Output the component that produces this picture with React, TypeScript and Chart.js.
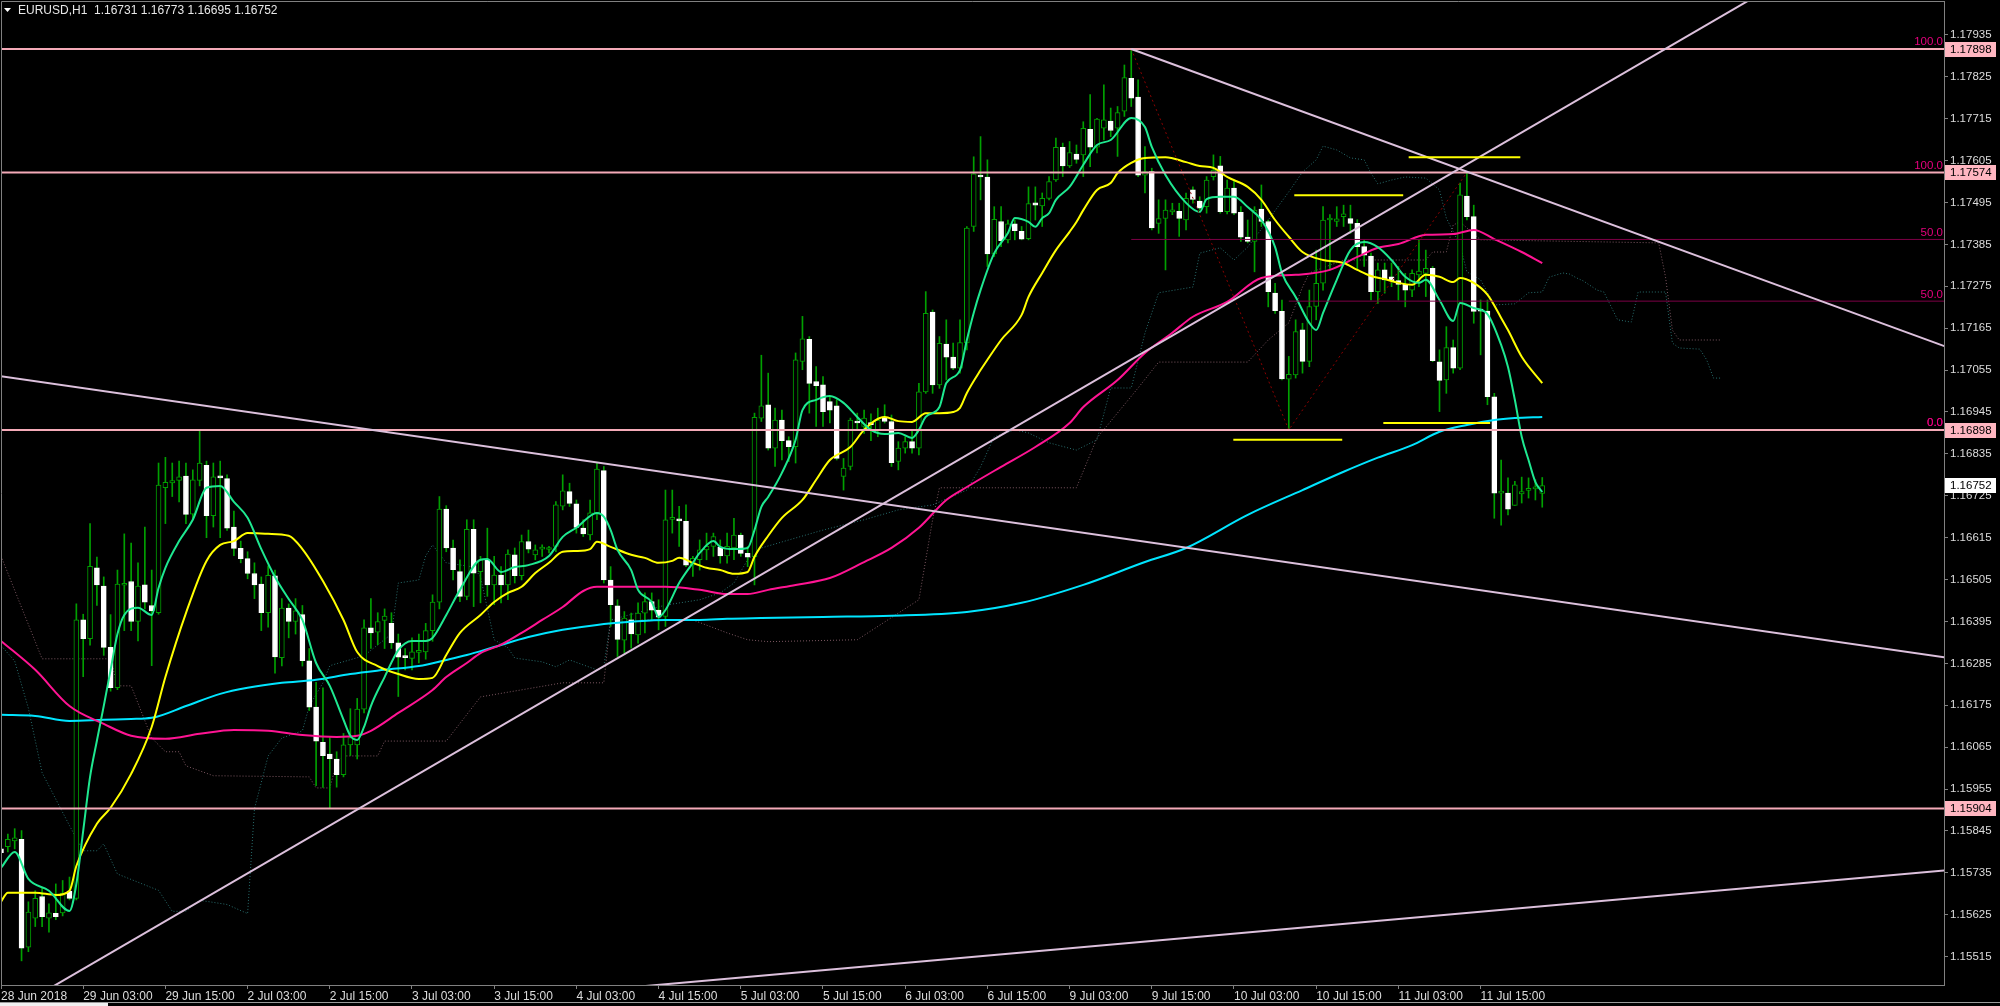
import React, { useEffect, useRef } from "react";
import { Chart, registerables } from "chart.js";

Chart.register(...registerables);

// ---------------- data ----------------
const headerText = "EURUSD,H1  1.16731 1.16773 1.16695 1.16752";

const timeTickIdx = [0, 12, 24, 36, 48, 60, 72, 84, 96, 108, 120, 132, 144, 156, 168, 180, 192, 204, 216];
const timeTickLabels = [
  "28 Jun 2018", "29 Jun 03:00", "29 Jun 15:00", "2 Jul 03:00", "2 Jul 15:00", "3 Jul 03:00",
  "3 Jul 15:00", "4 Jul 03:00", "4 Jul 15:00", "5 Jul 03:00", "5 Jul 15:00", "6 Jul 03:00",
  "6 Jul 15:00", "9 Jul 03:00", "9 Jul 15:00", "10 Jul 03:00", "10 Jul 15:00", "11 Jul 03:00", "11 Jul 15:00",
];
const priceTicks = [
  1.17935, 1.17825, 1.17715, 1.17605, 1.17495, 1.17385, 1.17275, 1.17165, 1.17055, 1.16945, 1.16835, 1.16725,
  1.16615, 1.16505, 1.16395, 1.16285, 1.16175, 1.16065, 1.15955, 1.15845, 1.15735, 1.15625, 1.15515,
];

const opens = [
  1.15798, 1.15804, 1.15819, 1.15823, 1.15540, 1.15616, 1.15673, 1.15616, 1.15629, 1.15630,
  1.15687, 1.15668, 1.16399, 1.16350, 1.16536, 1.16488, 1.16327, 1.16221, 1.16490, 1.16500,
  1.16395, 1.16491, 1.16437, 1.16418, 1.16746, 1.16759, 1.16765, 1.16777, 1.16677, 1.16765,
  1.16805, 1.16673, 1.16777, 1.16770, 1.16643, 1.16587, 1.16560, 1.16521, 1.16493, 1.16418,
  1.16515, 1.16300, 1.16430, 1.16395, 1.16413, 1.16292, 1.16170, 1.16078, 1.16047, 1.16034,
  1.15993, 1.16071, 1.16071, 1.16165, 1.16378, 1.16367, 1.16398, 1.16390, 1.16339, 1.16304,
  1.16298, 1.16314, 1.16315, 1.16371, 1.16446, 1.16690, 1.16588, 1.16526, 1.16461, 1.16637,
  1.16526, 1.16557, 1.16491, 1.16517, 1.16491, 1.16570, 1.16515, 1.16605, 1.16570, 1.16585,
  1.16584, 1.16592, 1.16698, 1.16736, 1.16704, 1.16640, 1.16622, 1.16680, 1.16791, 1.16504,
  1.16436, 1.16346, 1.16399, 1.16360, 1.16417, 1.16447, 1.16425, 1.16408, 1.16663, 1.16664,
  1.16658, 1.16543, 1.16557, 1.16583, 1.16592, 1.16590, 1.16567, 1.16588, 1.16622, 1.16574,
  1.16565, 1.16929, 1.16964, 1.16850, 1.16924, 1.16870, 1.16854, 1.17078, 1.17136, 1.17025,
  1.17016, 1.16972, 1.16961, 1.16776, 1.16802, 1.16920, 1.16907, 1.16916, 1.16898, 1.16930,
  1.16920, 1.16815, 1.16850, 1.16867, 1.16850, 1.16998, 1.17207, 1.17016, 1.17123, 1.17089,
  1.17060, 1.17126, 1.17432, 1.17566, 1.17562, 1.17360, 1.17445, 1.17397, 1.17439, 1.17419,
  1.17400, 1.17494, 1.17486, 1.17506, 1.17554, 1.17640, 1.17591, 1.17622, 1.17620, 1.17687,
  1.17640, 1.17690, 1.17709, 1.17690, 1.17735, 1.17821, 1.17772, 1.17567, 1.17576, 1.17440,
  1.17453, 1.17470, 1.17472, 1.17449, 1.17528, 1.17499, 1.17484, 1.17563, 1.17591, 1.17471,
  1.17533, 1.17469, 1.17404, 1.17393, 1.17478, 1.17445, 1.17257, 1.17209, 1.17031, 1.17042,
  1.17161, 1.17078, 1.17222, 1.17283, 1.17449, 1.17445, 1.17458, 1.17453, 1.17440, 1.17379,
  1.17354, 1.17261, 1.17318, 1.17300, 1.17290, 1.17280, 1.17265, 1.17305, 1.17309, 1.17322,
  1.17077, 1.17029, 1.17114, 1.17060, 1.17512, 1.17458, 1.17213, 1.17210, 1.16985, 1.16732,
  1.16732, 1.16700, 1.16730, 1.16739, 1.16743, 1.16731,
];
const highs = [
  1.15814, 1.15837, 1.15851, 1.15846, 1.15659, 1.15688, 1.15696, 1.15654, 1.15706, 1.15715,
  1.15724, 1.16441, 1.16414, 1.16652, 1.16564, 1.16512, 1.16413, 1.16530, 1.16625, 1.16601,
  1.16549, 1.16643, 1.16530, 1.16811, 1.16826, 1.16811, 1.16816, 1.16811, 1.16793, 1.16896,
  1.16816, 1.16811, 1.16816, 1.16780, 1.16685, 1.16606, 1.16578, 1.16549, 1.16512, 1.16541,
  1.16530, 1.16455, 1.16441, 1.16455, 1.16437, 1.16324, 1.16235, 1.16221, 1.16090, 1.16053,
  1.16101, 1.16166, 1.16193, 1.16399, 1.16455, 1.16418, 1.16428, 1.16418, 1.16362, 1.16324,
  1.16352, 1.16362, 1.16390, 1.16465, 1.16723, 1.16699, 1.16609, 1.16557, 1.16662, 1.16662,
  1.16566, 1.16640, 1.16566, 1.16539, 1.16583, 1.16588, 1.16622, 1.16635, 1.16596, 1.16596,
  1.16592, 1.16710, 1.16780, 1.16758, 1.16714, 1.16662, 1.16714, 1.16811, 1.16802, 1.16539,
  1.16452, 1.16421, 1.16417, 1.16444, 1.16470, 1.16470, 1.16452, 1.16740, 1.16740, 1.16697,
  1.16701, 1.16566, 1.16609, 1.16627, 1.16627, 1.16609, 1.16627, 1.16666, 1.16627, 1.16592,
  1.16942, 1.17094, 1.17047, 1.16955, 1.16950, 1.16880, 1.17100, 1.17196, 1.17143, 1.17064,
  1.17038, 1.16985, 1.16977, 1.16823, 1.16929, 1.16942, 1.16950, 1.16940, 1.16955, 1.16964,
  1.16937, 1.16867, 1.16880, 1.16898, 1.17020, 1.17261, 1.17213, 1.17143, 1.17187, 1.17126,
  1.17187, 1.17432, 1.17615, 1.17668, 1.17607, 1.17484, 1.17484, 1.17449, 1.17449, 1.17432,
  1.17536, 1.17536, 1.17520, 1.17563, 1.17664, 1.17651, 1.17655, 1.17646, 1.17707, 1.17778,
  1.17716, 1.17804, 1.17743, 1.17747, 1.17856, 1.17898, 1.17817, 1.17642, 1.17585, 1.17502,
  1.17502, 1.17493, 1.17493, 1.17520, 1.17536, 1.17510, 1.17563, 1.17620, 1.17616, 1.17554,
  1.17554, 1.17484, 1.17449, 1.17484, 1.17541, 1.17449, 1.17283, 1.17239, 1.17091, 1.17187,
  1.17178, 1.17265, 1.17370, 1.17484, 1.17463, 1.17484, 1.17488, 1.17488, 1.17450, 1.17397,
  1.17362, 1.17336, 1.17336, 1.17336, 1.17327, 1.17309, 1.17318, 1.17397, 1.17370, 1.17327,
  1.17108, 1.17169, 1.17134, 1.17546, 1.17576, 1.17488, 1.17239, 1.17239, 1.16994, 1.16819,
  1.16772, 1.16763, 1.16774, 1.16772, 1.16767, 1.16773,
];
const lows = [
  1.15775, 1.15790, 1.15798, 1.15504, 1.15528, 1.15594, 1.15594, 1.15579, 1.15612, 1.15622,
  1.15664, 1.15664, 1.16250, 1.16333, 1.16437, 1.16306, 1.16212, 1.16216, 1.16371, 1.16371,
  1.16344, 1.16428, 1.16279, 1.16414, 1.16652, 1.16723, 1.16709, 1.16652, 1.16662, 1.16751,
  1.16615, 1.16643, 1.16615, 1.16634, 1.16568, 1.16549, 1.16507, 1.16455, 1.16371, 1.16380,
  1.16259, 1.16278, 1.16352, 1.16362, 1.16278, 1.16161, 1.15964, 1.15959, 1.15905, 1.15960,
  1.15987, 1.16043, 1.16034, 1.16155, 1.16324, 1.16334, 1.16324, 1.16324, 1.16198, 1.16268,
  1.16268, 1.16286, 1.16296, 1.16343, 1.16428, 1.16578, 1.16504, 1.16447, 1.16452, 1.16434,
  1.16444, 1.16461, 1.16439, 1.16444, 1.16452, 1.16496, 1.16504, 1.16575, 1.16557, 1.16566,
  1.16575, 1.16578, 1.16688, 1.16697, 1.16627, 1.16618, 1.16609, 1.16662, 1.16496, 1.16382,
  1.16303, 1.16312, 1.16325, 1.16338, 1.16365, 1.16399, 1.16373, 1.16382, 1.16627, 1.16592,
  1.16539, 1.16513, 1.16530, 1.16557, 1.16566, 1.16548, 1.16548, 1.16557, 1.16566, 1.16539,
  1.16491, 1.16920, 1.16845, 1.16802, 1.16819, 1.16815, 1.16811, 1.17056, 1.16942, 1.16907,
  1.16907, 1.16916, 1.16819, 1.16740, 1.16793, 1.16898, 1.16889, 1.16870, 1.16880, 1.16916,
  1.16802, 1.16793, 1.16837, 1.16837, 1.16832, 1.16994, 1.16994, 1.17007, 1.17029, 1.17056,
  1.17047, 1.17108, 1.17419, 1.17502, 1.17327, 1.17353, 1.17379, 1.17389, 1.17397, 1.17397,
  1.17397, 1.17449, 1.17432, 1.17502, 1.17550, 1.17563, 1.17587, 1.17598, 1.17563, 1.17589,
  1.17625, 1.17659, 1.17668, 1.17616, 1.17721, 1.17747, 1.17563, 1.17520, 1.17423, 1.17414,
  1.17318, 1.17463, 1.17406, 1.17423, 1.17493, 1.17475, 1.17467, 1.17554, 1.17467, 1.17465,
  1.17463, 1.17393, 1.17389, 1.17313, 1.17432, 1.17221, 1.17204, 1.17029, 1.16898, 1.17034,
  1.17047, 1.17064, 1.17187, 1.17265, 1.17318, 1.17432, 1.17432, 1.17414, 1.17318, 1.17327,
  1.17239, 1.17230, 1.17257, 1.17274, 1.17239, 1.17221, 1.17248, 1.17274, 1.17248, 1.17077,
  1.16946, 1.16994, 1.17047, 1.17056, 1.17449, 1.17178, 1.17095, 1.16964, 1.16666, 1.16648,
  1.16675, 1.16700, 1.16706, 1.16719, 1.16714, 1.16695,
];
const closes = [
  1.15788, 1.15823, 1.15827, 1.15537, 1.15632, 1.15668, 1.15620, 1.15630, 1.15620, 1.15682,
  1.15668, 1.16399, 1.16350, 1.16540, 1.16491, 1.16327, 1.16221, 1.16493, 1.16493, 1.16395,
  1.16488, 1.16446, 1.16423, 1.16753, 1.16760, 1.16765, 1.16775, 1.16676, 1.16767, 1.16811,
  1.16673, 1.16775, 1.16772, 1.16640, 1.16587, 1.16560, 1.16521, 1.16491, 1.16418, 1.16516,
  1.16302, 1.16430, 1.16395, 1.16423, 1.16292, 1.16170, 1.16081, 1.16043, 1.16035, 1.15993,
  1.16071, 1.16090, 1.16165, 1.16378, 1.16365, 1.16395, 1.16409, 1.16339, 1.16301, 1.16300,
  1.16315, 1.16318, 1.16371, 1.16446, 1.16690, 1.16588, 1.16531, 1.16461, 1.16637, 1.16522,
  1.16557, 1.16491, 1.16517, 1.16491, 1.16572, 1.16515, 1.16605, 1.16585, 1.16583, 1.16587,
  1.16588, 1.16701, 1.16738, 1.16705, 1.16642, 1.16625, 1.16680, 1.16795, 1.16504, 1.16439,
  1.16348, 1.16404, 1.16362, 1.16417, 1.16447, 1.16425, 1.16406, 1.16662, 1.16667, 1.16659,
  1.16543, 1.16561, 1.16583, 1.16592, 1.16618, 1.16567, 1.16592, 1.16622, 1.16574, 1.16564,
  1.16931, 1.16961, 1.16850, 1.16924, 1.16870, 1.16854, 1.17082, 1.17137, 1.17020, 1.17014,
  1.16946, 1.16950, 1.16823, 1.16798, 1.16924, 1.16916, 1.16929, 1.16912, 1.16924, 1.16920,
  1.16812, 1.16850, 1.16867, 1.16850, 1.16998, 1.17204, 1.17016, 1.17125, 1.17089, 1.17060,
  1.17127, 1.17428, 1.17570, 1.17562, 1.17360, 1.17451, 1.17395, 1.17439, 1.17421, 1.17399,
  1.17492, 1.17488, 1.17506, 1.17550, 1.17640, 1.17591, 1.17626, 1.17608, 1.17690, 1.17640,
  1.17714, 1.17712, 1.17684, 1.17731, 1.17823, 1.17769, 1.17567, 1.17576, 1.17428, 1.17453,
  1.17475, 1.17476, 1.17453, 1.17506, 1.17503, 1.17480, 1.17554, 1.17580, 1.17471, 1.17533,
  1.17467, 1.17404, 1.17393, 1.17475, 1.17445, 1.17261, 1.17211, 1.17032, 1.17044, 1.17156,
  1.17078, 1.17222, 1.17283, 1.17449, 1.17453, 1.17452, 1.17465, 1.17440, 1.17379, 1.17357,
  1.17261, 1.17318, 1.17292, 1.17290, 1.17280, 1.17265, 1.17309, 1.17315, 1.17322, 1.17080,
  1.17028, 1.17114, 1.17060, 1.17515, 1.17458, 1.17209, 1.17210, 1.16985, 1.16732, 1.16736,
  1.16690, 1.16754, 1.16736, 1.16744, 1.16747, 1.16752,
];

// moving averages, read at sample bars
const maFastIdx = [0, 2, 4, 7, 10, 11, 12, 13, 14, 15, 16, 17, 18, 20, 22, 23, 24, 26, 28, 30, 32, 34, 36, 38, 40, 42, 44, 46, 48, 50, 51, 52, 53, 54, 56, 58, 60, 62, 63, 65, 67, 70, 71, 73, 75, 77, 80, 82, 84, 87, 88, 89, 90, 92, 93, 95, 96, 97, 99, 101, 102, 104, 105, 107, 109, 110, 111, 112, 114, 116, 117, 119, 121, 123, 125, 127, 129, 131, 133, 134, 135, 137, 138, 140, 141, 142, 143, 145, 147, 148, 150, 151, 152, 153, 154, 156, 158, 160, 162, 165, 167, 168, 170, 173, 175, 176, 178, 180, 182, 184, 186, 187, 189, 191, 192, 193, 195, 197, 199, 201, 203, 205, 207, 208, 210, 212, 213, 215, 217, 219, 220, 221, 222, 223, 224, 225];
const maFastVal = [1.15748, 1.15790, 1.15719, 1.15688, 1.15635, 1.15706, 1.15845, 1.15987, 1.16082, 1.16173, 1.16268, 1.16362, 1.16412, 1.16431, 1.16412, 1.16483, 1.16536, 1.16606, 1.16662, 1.16746, 1.16751, 1.16709, 1.16667, 1.16585, 1.16512, 1.16454, 1.16399, 1.16286, 1.16226, 1.16137, 1.16095, 1.16084, 1.16118, 1.16173, 1.16249, 1.16320, 1.16344, 1.16344, 1.16352, 1.16412, 1.16478, 1.16557, 1.16559, 1.16525, 1.16538, 1.16543, 1.16567, 1.16617, 1.16641, 1.16680, 1.16670, 1.16635, 1.16583, 1.16530, 1.16478, 1.16446, 1.16407, 1.16425, 1.16496, 1.16549, 1.16575, 1.16606, 1.16591, 1.16585, 1.16588, 1.16635, 1.16696, 1.16722, 1.16785, 1.16872, 1.16950, 1.16977, 1.16987, 1.16969, 1.16932, 1.16898, 1.16887, 1.16890, 1.16877, 1.16898, 1.16932, 1.16958, 1.17021, 1.17055, 1.17134, 1.17205, 1.17265, 1.17362, 1.17415, 1.17454, 1.17444, 1.17431, 1.17454, 1.17467, 1.17502, 1.17536, 1.17594, 1.17646, 1.17659, 1.17717, 1.17693, 1.17641, 1.17567, 1.17494, 1.17470, 1.17504, 1.17510, 1.17510, 1.17483, 1.17449, 1.17378, 1.17310, 1.17247, 1.17179, 1.17160, 1.17205, 1.17292, 1.17370, 1.17391, 1.17378, 1.17344, 1.17300, 1.17284, 1.17292, 1.17239, 1.17184, 1.17231, 1.17218, 1.17202, 1.17121, 1.17063, 1.16977, 1.16880, 1.16819, 1.16761, 1.16735];

const maMidIdx = [0, 1, 5, 8, 10, 11, 14, 16, 19, 22, 24, 27, 30, 32, 34, 36, 39, 42, 44, 47, 50, 52, 55, 58, 61, 63, 65, 67, 70, 72, 74, 76, 78, 80, 82, 84, 86, 87, 89, 92, 94, 96, 98, 99, 101, 103, 105, 107, 109, 110, 112, 114, 117, 119, 121, 124, 126, 129, 131, 133, 135, 137, 139, 140, 141, 143, 144, 146, 149, 150, 152, 154, 156, 157, 158, 160, 162, 163, 165, 167, 170, 173, 175, 177, 179, 182, 184, 186, 188, 190, 193, 196, 198, 200, 202, 204, 206, 208, 210, 212, 213, 215, 217, 219, 220, 222, 225];
const maMidVal = [1.15659, 1.15683, 1.15683, 1.15677, 1.15688, 1.15753, 1.15864, 1.15906, 1.15995, 1.16118, 1.16249, 1.16417, 1.16554, 1.16596, 1.16606, 1.16627, 1.16625, 1.16620, 1.16585, 1.16501, 1.16399, 1.16315, 1.16278, 1.16257, 1.16244, 1.16247, 1.16307, 1.16365, 1.16412, 1.16446, 1.16470, 1.16486, 1.16522, 1.16549, 1.16578, 1.16580, 1.16585, 1.16604, 1.16591, 1.16570, 1.16562, 1.16549, 1.16554, 1.16562, 1.16549, 1.16536, 1.16530, 1.16520, 1.16525, 1.16565, 1.16620, 1.16667, 1.16714, 1.16767, 1.16819, 1.16853, 1.16898, 1.16932, 1.16921, 1.16919, 1.16942, 1.16942, 1.16945, 1.16956, 1.16995, 1.17055, 1.17082, 1.17134, 1.17200, 1.17247, 1.17310, 1.17370, 1.17418, 1.17444, 1.17475, 1.17528, 1.17546, 1.17572, 1.17599, 1.17612, 1.17614, 1.17601, 1.17591, 1.17586, 1.17562, 1.17536, 1.17502, 1.17449, 1.17405, 1.17365, 1.17344, 1.17336, 1.17318, 1.17302, 1.17294, 1.17284, 1.17279, 1.17305, 1.17300, 1.17286, 1.17297, 1.17284, 1.17253, 1.17192, 1.17160, 1.17090, 1.17021];

const maSlowIdx = [0, 5, 10, 15, 19, 24, 29, 34, 39, 44, 49, 52, 54, 58, 63, 65, 68, 70, 73, 76, 79, 82, 85, 87, 92, 97, 102, 106, 109, 112, 116, 121, 126, 130, 134, 138, 141, 146, 151, 156, 158, 163, 167, 171, 174, 179, 184, 189, 194, 198, 201, 204, 208, 212, 215, 218, 222, 225];
const maSlowVal = [1.16344, 1.16268, 1.16173, 1.16126, 1.16095, 1.16087, 1.16100, 1.16110, 1.16108, 1.16097, 1.16092, 1.16095, 1.16108, 1.16155, 1.16215, 1.16249, 1.16286, 1.16312, 1.16334, 1.16365, 1.16399, 1.16433, 1.16475, 1.16486, 1.16486, 1.16486, 1.16478, 1.16467, 1.16467, 1.16478, 1.16491, 1.16509, 1.16551, 1.16588, 1.16641, 1.16714, 1.16748, 1.16801, 1.16853, 1.16916, 1.16958, 1.17029, 1.17100, 1.17153, 1.17195, 1.17234, 1.17297, 1.17305, 1.17318, 1.17352, 1.17376, 1.17386, 1.17410, 1.17412, 1.17423, 1.17399, 1.17365, 1.17336];

const maLongIdx = [0, 5, 10, 15, 19, 22, 27, 32, 36, 41, 46, 51, 56, 61, 65, 68, 72, 77, 82, 87, 92, 97, 102, 106, 111, 120, 130, 141, 149, 158, 167, 173, 182, 190, 196, 201, 206, 210, 214, 218, 221, 225];
const maLongVal = [1.16150, 1.16147, 1.16134, 1.16137, 1.16139, 1.16142, 1.16173, 1.16205, 1.16221, 1.16234, 1.16242, 1.16257, 1.16268, 1.16278, 1.16294, 1.16307, 1.16328, 1.16354, 1.16373, 1.16386, 1.16394, 1.16399, 1.16399, 1.16402, 1.16404, 1.16407, 1.16410, 1.16420, 1.16444, 1.16491, 1.16551, 1.16588, 1.16675, 1.16740, 1.16788, 1.16825, 1.16858, 1.16893, 1.16911, 1.16924, 1.16929, 1.16932];

// Ichimoku-style dotted spans
const spanAIdx = [0, 2, 4, 6, 10, 12, 14, 15, 17, 23, 25, 27, 29, 33, 36, 37, 39, 41, 44, 45, 47, 48, 53, 57, 58, 61, 62, 63, 65, 69, 70, 72, 74, 75, 79, 81, 83, 87, 88, 89, 97, 102, 105, 107, 109, 111, 115, 120, 126, 131, 136, 141, 143, 145, 148, 150, 153, 157, 160, 162, 165, 167, 169, 174, 175, 178, 180, 182, 185, 188, 190, 192, 193, 195, 197, 199, 200, 201, 203, 205, 208, 210, 211, 213, 214, 216, 218, 221, 223, 225, 226, 228, 229, 230, 231, 233, 234, 236, 238, 239, 243, 244, 245, 248, 249, 250, 251];
const spanAVal = [1.16332, 1.16291, 1.16167, 1.15998, 1.15859, 1.15793, 1.15793, 1.15811, 1.15732, 1.15689, 1.15634, 1.15634, 1.15663, 1.15652, 1.15628, 1.15903, 1.16042, 1.16089, 1.16108, 1.16173, 1.16234, 1.16279, 1.16305, 1.16362, 1.16496, 1.16504, 1.16567, 1.16596, 1.16549, 1.16538, 1.16512, 1.16347, 1.16326, 1.16299, 1.16289, 1.16276, 1.16294, 1.16268, 1.16276, 1.16399, 1.16438, 1.16452, 1.16470, 1.16496, 1.16557, 1.16588, 1.16609, 1.16635, 1.16662, 1.16688, 1.16701, 1.16740, 1.16801, 1.16880, 1.16898, 1.16890, 1.16864, 1.16845, 1.16872, 1.17008, 1.17008, 1.17152, 1.17258, 1.17273, 1.17362, 1.17376, 1.17344, 1.17378, 1.17449, 1.17523, 1.17575, 1.17607, 1.17643, 1.17633, 1.17612, 1.17607, 1.17572, 1.17544, 1.17554, 1.17562, 1.17559, 1.17528, 1.17454, 1.17383, 1.17313, 1.17292, 1.17226, 1.17229, 1.17258, 1.17260, 1.17299, 1.17310, 1.17307, 1.17297, 1.17289, 1.17265, 1.17260, 1.17187, 1.17181, 1.17260, 1.17260, 1.17126, 1.17113, 1.17110, 1.17082, 1.17034, 1.17034];

const spanBIdx = [0, 6, 16, 17, 19, 22, 24, 26, 27, 31, 45, 46, 48, 49, 50, 55, 56, 65, 70, 82, 88, 89, 101, 106, 109, 112, 125, 134, 136, 137, 157, 160, 166, 169, 182, 185, 188, 190, 191, 196, 208, 209, 211, 212, 213, 216, 242, 243, 244, 245, 251];
const spanBVal = [1.16567, 1.16297, 1.16297, 1.16226, 1.16226, 1.16089, 1.16053, 1.16053, 1.16016, 1.15990, 1.15987, 1.15958, 1.15958, 1.16024, 1.16042, 1.16042, 1.16081, 1.16081, 1.16197, 1.16234, 1.16234, 1.16399, 1.16399, 1.16365, 1.16347, 1.16342, 1.16347, 1.16452, 1.16662, 1.16746, 1.16746, 1.16877, 1.17008, 1.17076, 1.17076, 1.17134, 1.17179, 1.17273, 1.17310, 1.17344, 1.17344, 1.17365, 1.17365, 1.17436, 1.17444, 1.17397, 1.17389, 1.17299, 1.17160, 1.17134, 1.17134];

// horizontal levels, fibonacci, trend lines
const levelPrices = [1.17898, 1.17574, 1.16898, 1.15904];
const bidPrice = 1.16752;
const fibLineStartIdx = [165, 188];
const fibLinePrice = [1.17398, 1.17236];
const fibLabelText = ["100.0", "50.0", "0.0", "100.0", "50.0", "0.0"];
const fibLabelPrice = [1.17898, 1.17398, 1.16898, 1.17574, 1.17236, 1.16898];
const zigzagIdx = [165, 188, 214];
const zigzagPrice = [1.17898, 1.16898, 1.17574];
const trendAIdx = [8, 0, 165, 96];
const trendAPrice = [1.15441, 1.17039, 1.17898, 1.15441];
const trendBIdx = [255, 283, 214, 283];
const trendBPrice = [1.18024, 1.16303, 1.17576, 1.15740];
const trendExtendLeft = [true, true, false, true];
const segFromIdx = [205.5, 188.8, 201.8, 179.9];
const segToIdx = [221.8, 204.7, 217.4, 195.8];
const segPrice = [1.17614, 1.17514, 1.16916, 1.16872];

// ---------------- style ----------------
const X_MIN = 0;
const X_MAX = 283.65;
const Y_MAX = 1.18024;
const Y_MIN = 1.154406;
const FAMILY = "'Liberation Sans', Arial, sans-serif";
const AXIS_TEXT = "#dcdcdc";
const GRID = "#808080";
const CANDLE_GREEN = "#00a000";
const PINK = "#f4aab8";
const PINK_BOX = "#ffb6c1";
const THISTLE = "#dcc0dc";
const FIB_LINE = "rgb(125,0,70)";
const FIB_TEXT = "#e6007e";

export default function App() {
  const ref = useRef<HTMLCanvasElement | null>(null);

  useEffect(() => {
    const canvas = ref.current;
    if (!canvas) return;
    const n = opens.length;
    const ids = Array.from({ length: n }, (_, i) => i);
    const bull = ids.map((i) => closes[i] >= opens[i]);

    const bodyData = ids.map((i) => ({ x: i, y: [Math.min(opens[i], closes[i]), Math.max(opens[i], closes[i])] }));
    const wickData = ids.map((i) => ({
      x: i,
      y: [Math.min(lows[i], opens[i], closes[i]), Math.max(highs[i], opens[i], closes[i])],
    }));

    const pts = (xs: number[], ys: number[]) => xs.map((x, i) => ({ x, y: ys[i] }));
    const line = (data: any[], color: string, width: number, order: number, extra: any = {}) => ({
      type: "line",
      data,
      borderColor: color,
      backgroundColor: color,
      borderWidth: width,
      pointRadius: 0,
      pointHoverRadius: 0,
      fill: false,
      tension: 0,
      order,
      ...extra,
    });

    const datasets: any[] = [];

    // Ichimoku-like dotted spans (behind everything)
    datasets.push(line(pts(spanAIdx, spanAVal), "rgb(40,110,110)", 1, 30, { borderDash: [1, 2] }));
    datasets.push(line(pts(spanBIdx, spanBVal), "rgb(125,88,98)", 1, 31, { borderDash: [1, 2] }));

    // candles
    datasets.push({
      type: "bar",
      data: wickData,
      backgroundColor: CANDLE_GREEN,
      borderWidth: 0,
      barThickness: 1,
      minBarLength: 1,
      grouped: false,
      order: 21,
    });
    datasets.push({
      type: "bar",
      data: bodyData,
      backgroundColor: ids.map((i) => (bull[i] ? "#000000" : "#ffffff")),
      borderColor: ids.map((i) => (bull[i] ? CANDLE_GREEN : "#ffffff")),
      borderWidth: 1,
      borderSkipped: false,
      barThickness: 5,
      minBarLength: 2,
      grouped: false,
      order: 20,
    });

    // moving averages
    const smooth = { cubicInterpolationMode: "monotone" };
    datasets.push(line(pts(maLongIdx, maLongVal), "#00e5ff", 2, 8, smooth));
    datasets.push(line(pts(maSlowIdx, maSlowVal), "#ff1493", 2, 7, smooth));
    datasets.push(line(pts(maMidIdx, maMidVal), "#ffff00", 2, 6, smooth));
    datasets.push(line(pts(maFastIdx, maFastVal), "#1ee890", 2, 5, smooth));

    // fib 50% lines
    fibLineStartIdx.forEach((s, k) => {
      datasets.push(line([{ x: s, y: fibLinePrice[k] }, { x: X_MAX, y: fibLinePrice[k] }], FIB_LINE, 1, 4, { clip: 0 }));
    });
    // zigzag
    datasets.push(line(pts(zigzagIdx, zigzagPrice), "#8b0000", 1, 4, { borderDash: [2, 3], clip: 0 }));

    // horizontal levels
    levelPrices.forEach((p) => {
      datasets.push(line([{ x: X_MIN, y: p }, { x: X_MAX, y: p }], PINK, 2, 2, { clip: 0 }));
    });

    // trend lines (rays through two anchors)
    trendAIdx.forEach((x1, k) => {
      const y1 = trendAPrice[k];
      const x2 = trendBIdx[k];
      const y2 = trendBPrice[k];
      const slope = (y2 - y1) / (x2 - x1);
      const from = trendExtendLeft[k] ? X_MIN - 20 : x1;
      const to = X_MAX + 20;
      datasets.push(
        line(
          [
            { x: from, y: y1 + slope * (from - x1) },
            { x: to, y: y1 + slope * (to - x1) },
          ],
          THISTLE,
          2,
          1,
          { clip: 0 }
        )
      );
    });

    // short yellow segments
    segFromIdx.forEach((s, k) => {
      datasets.push(line([{ x: s, y: segPrice[k] }, { x: segToIdx[k], y: segPrice[k] }], "#ffff00", 2, 0, { clip: 0 }));
    });

    const overlay = {
      id: "overlay",
      beforeDraw(c: any) {
        const ctx = c.ctx;
        ctx.save();
        ctx.fillStyle = "#000000";
        ctx.fillRect(0, 0, c.width, c.height);
        ctx.restore();
      },
      afterDraw(c: any) {
        const ctx = c.ctx;
        const a = c.chartArea;
        const ys = c.scales.y;
        ctx.save();
        // plot border left / top
        ctx.strokeStyle = GRID;
        ctx.lineWidth = 1;
        ctx.beginPath();
        ctx.moveTo(a.left + 0.5, a.bottom);
        ctx.lineTo(a.left + 0.5, a.top + 0.5);
        ctx.lineTo(a.right, a.top + 0.5);
        ctx.stroke();

        // fib labels
        ctx.font = `11.5px ${FAMILY}`;
        ctx.fillStyle = FIB_TEXT;
        ctx.textAlign = "right";
        ctx.textBaseline = "bottom";
        fibLabelText.forEach((t, k) => {
          ctx.fillText(t, a.right - 1, ys.getPixelForValue(fibLabelPrice[k]) - 1);
        });

        // price boxes on the axis
        ctx.textAlign = "left";
        ctx.textBaseline = "middle";
        const box = (p: number, fill: string) => {
          const py = Math.round(ys.getPixelForValue(p));
          ctx.fillStyle = fill;
          ctx.fillRect(a.right + 1, py - 7, 51, 15);
          ctx.fillStyle = "#000000";
          ctx.fillText(p.toFixed(5), a.right + 6, py + 1);
        };
        levelPrices.forEach((p) => box(p, PINK_BOX));
        box(bidPrice, "#ffffff");

        // header
        ctx.fillStyle = "#ffffff";
        ctx.beginPath();
        ctx.moveTo(4, 8);
        ctx.lineTo(11, 8);
        ctx.lineTo(7.5, 12);
        ctx.closePath();
        ctx.fill();
        ctx.font = `12px ${FAMILY}`;
        ctx.fillStyle = "#e8e8e8";
        ctx.textBaseline = "middle";
        ctx.fillText(headerText, 18, 11);

        // window bottom strip
        ctx.fillStyle = "#9a9a9a";
        ctx.fillRect(0, 1002, c.width, 1);
        ctx.fillStyle = "#f0f0f0";
        ctx.fillRect(0, 1003, 108, 3);
        ctx.restore();
      },
    };

    const chart = new Chart(canvas, {
      type: "line",
      data: { datasets },
      options: {
        responsive: false,
        animation: false,
        devicePixelRatio: 1,
        events: [],
        layout: { padding: { left: 1, top: 1, right: 0, bottom: 0 }, autoPadding: false },
        plugins: { legend: { display: false }, tooltip: { enabled: false }, title: { display: false } },
        scales: {
          x: {
            type: "linear",
            min: X_MIN,
            max: X_MAX,
            offset: false,
            position: "bottom",
            afterFit: (s: any) => {
              s.height = 21;
              s.paddingLeft = 0;
              s.paddingRight = 0;
            },
            afterBuildTicks: (s: any) => {
              s.ticks = timeTickIdx.map((v) => ({ value: v }));
            },
            ticks: {
              autoSkip: false,
              maxRotation: 0,
              minRotation: 0,
              align: "start",
              padding: 0,
              color: AXIS_TEXT,
              font: { family: FAMILY, size: 12 },
              callback: (v: any) => {
                const k = timeTickIdx.indexOf(Number(v));
                return k >= 0 ? timeTickLabels[k] : "";
              },
            },
            grid: { display: true, drawOnChartArea: false, drawTicks: true, tickLength: 4, color: GRID, offset: false },
            border: { display: true, color: GRID, width: 1 },
          },
          y: {
            type: "linear",
            position: "right",
            min: Y_MIN,
            max: Y_MAX,
            afterFit: (s: any) => {
              s.width = 56;
              s.paddingTop = 0;
              s.paddingBottom = 0;
            },
            afterBuildTicks: (s: any) => {
              s.ticks = priceTicks.map((v) => ({ value: v }));
            },
            ticks: {
              autoSkip: false,
              padding: 2,
              color: AXIS_TEXT,
              font: { family: FAMILY, size: 11.5 },
              callback: (v: any) => Number(v).toFixed(5),
            },
            grid: { display: true, drawOnChartArea: false, drawTicks: true, tickLength: 4, color: GRID },
            border: { display: true, color: GRID, width: 1 },
          },
        },
      } as any,
      plugins: [overlay],
    } as any);

    return () => chart.destroy();
  }, []);

  return (
    <div style={{ position: "fixed", left: 0, top: 0, width: 2000, height: 1006, background: "#000", overflow: "hidden" }}>
      <canvas ref={ref} width={2000} height={1006} style={{ display: "block", width: 2000, height: 1006 }} />
    </div>
  );
}
